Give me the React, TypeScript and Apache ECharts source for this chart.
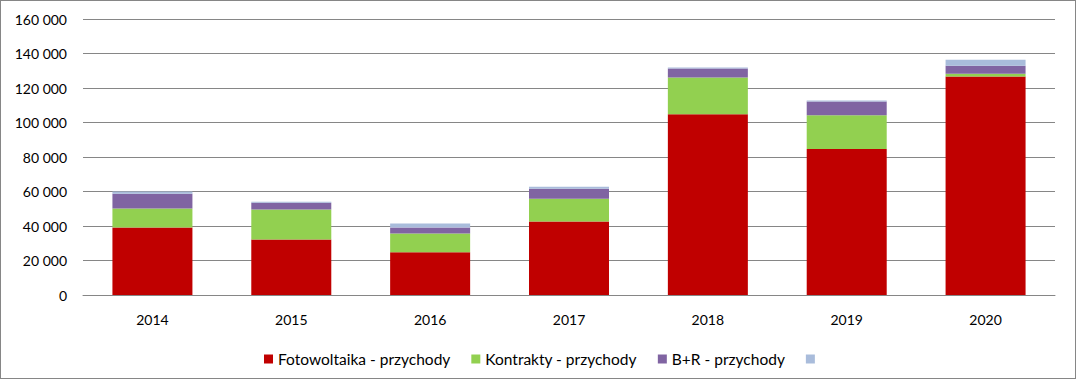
import React, { useEffect, useRef } from "react";
import * as echarts from "echarts";

const categories = ["2014", "2015", "2016", "2017", "2018", "2019", "2020"];
const fotowoltaika = [39100, 32200, 24750, 42600, 104750, 84600, 126600];
const kontrakty = [11000, 17300, 10900, 13200, 21300, 19600, 1700];
const bir = [8600, 4000, 3500, 5800, 5200, 8000, 4600];
const other = [1300, 600, 2300, 1100, 600, 600, 3500];

const seriesNames = ["Fotowoltaika - przychody", "Kontrakty - przychody", "B+R - przychody", " "];
const seriesColors = ["#C00000", "#92D050", "#8064A2", "#A9BCDB"];
const seriesData = [fotowoltaika, kontrakty, bir, other];

const fmt = (v: number) => {
  const s = String(Math.round(v));
  return s.replace(/\B(?=(\d{3})+(?!\d))/g, " ");
};

export default function App() {
  const ref = useRef<HTMLDivElement>(null);
  useEffect(() => {
    document.body.style.margin = "0";
    const chart = echarts.init(ref.current!, null, { renderer: "svg" });
    chart.setOption({
      animation: false,
      textStyle: { fontFamily: "Lato" },
      grid: { left: 82, right: 20, top: 18, bottom: 83, containLabel: false },
      legend: {
        top: 345,
        left: 258,
        itemWidth: 9,
        itemHeight: 9,
        itemGap: 21,
        icon: "rect",
        textStyle: { fontSize: 15.5, color: "#000", fontFamily: "Lato" },
        data: seriesNames.map((n) => ({ name: n })),
      },
      xAxis: {
        type: "category",
        data: categories,
        axisLine: { lineStyle: { color: "#868686", width: 1 } },
        axisTick: { show: false },
        axisLabel: { color: "#000", fontSize: 14, margin: 17 },
      },
      yAxis: {
        type: "value",
        min: 0,
        max: 160000,
        interval: 20000,
        axisLine: { show: false },
        axisTick: { show: false },
        axisLabel: { color: "#000", fontSize: 14, margin: 16, formatter: (v: number) => fmt(v) },
        splitLine: { lineStyle: { color: "#868686", width: 1 } },
      },
      series: seriesData.map((d, i) => ({
        name: seriesNames[i],
        type: "bar",
        stack: "total",
        data: d,
        barWidth: 80,
        itemStyle: { color: seriesColors[i] },
      })),
    });
    return () => chart.dispose();
  }, []);
  return (
    <div
      ref={ref}
      style={{ width: 1076, height: 379, boxSizing: "border-box", border: "1px solid #868686" }}
    />
  );
}
